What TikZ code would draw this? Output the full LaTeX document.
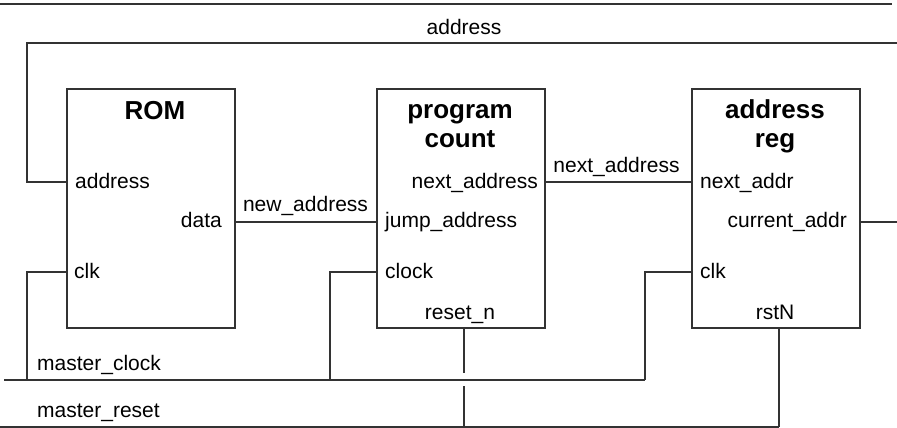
\documentclass[tikz,border=0pt]{standalone}
\usepackage{fontspec}
\setmainfont{Liberation Sans}
\begin{document}
\begin{tikzpicture}[x=1pt,y=-1pt,
  wire/.style={draw=black!80,line width=1.1pt},
  lbl/.style={inner sep=0pt,font=\fontsize{21}{25}\selectfont},
  ttl/.style={inner sep=0pt,font=\fontsize{26}{30}\selectfont\bfseries},
  blk/.style={draw=black!80,line width=1.1pt,minimum width=168pt,minimum height=239pt,anchor=north west,inner sep=0pt,outer sep=0pt}]
\useasboundingbox (0,0) rectangle (897,428);

% blocks
\node[blk] (rom) at (67,89) {};
\node[blk] (pc) at (377,89) {};
\node[blk] (ar) at (692,89) {};

% titles
\node[ttl,anchor=base] (romT) at (155,119) {ROM};
\node[ttl,anchor=base] (pcT1) at (460,118) {program};
\node[ttl,anchor=base] (pcT2) at (460,147) {count};
\node[ttl,anchor=base] (arT1) at (775,118) {address};
\node[ttl,anchor=base] (arT2) at (775,147) {reg};

% port labels
\node[lbl,anchor=base west] (romAddrL) at (75,188) {address};
\node[lbl,anchor=base east] (romDataL) at (222,227) {data};
\node[lbl,anchor=base west] (romClkL) at (74,278) {clk};
\node[lbl,anchor=base east] (pcNextL) at (538,188) {next\_address};
\node[lbl,anchor=base west] (pcJumpL) at (385,227) {jump\_address};
\node[lbl,anchor=base west] (pcClkL) at (385,278) {clock};
\node[lbl,anchor=base] (pcRstL) at (460,319) {reset\_n};
\node[lbl,anchor=base west] (arNextL) at (700,188) {next\_addr};
\node[lbl,anchor=base east] (arCurL) at (847,227) {current\_addr};
\node[lbl,anchor=base west] (arClkL) at (700,278) {clk};
\node[lbl,anchor=base] (arRstL) at (775,319) {rstN};

% port coordinates
\coordinate (romAddr) at (67,182);
\coordinate (romData) at (235,222);
\coordinate (romClk) at (67,272);
\coordinate (pcNext) at (545,182);
\coordinate (pcJump) at (377,222);
\coordinate (pcClk) at (377,272);
\coordinate (pcRst) at (464,328);
\coordinate (arNext) at (692,182);
\coordinate (arCur) at (860,222);
\coordinate (arClk) at (692,272);
\coordinate (arRst) at (779,328);

% net coordinates
\coordinate (topL) at (0,4);
\coordinate (topR) at (892,4);
\coordinate (addrL) at (27,43);
\coordinate (addrR) at (897,43);
\coordinate (curR) at (897,222);
\coordinate (mclkL) at (4,380);
\coordinate (mclkR) at (645,380);
\coordinate (mrstL) at (0,427);
\coordinate (mrstR) at (779,427);
\coordinate (romClkJ) at (27,380);
\coordinate (pcClkJ) at (330,380);
\coordinate (gapTop) at (464,373);
\coordinate (gapBot) at (464,386);
\coordinate (pcRstJ) at (464,427);

% net labels
\node[lbl,anchor=base] (addrNet) at (464,35) {address};
\node[lbl,anchor=base] (newAddrNet) at (305.5,211) {new\_address};
\node[lbl,anchor=base] (nextAddrNet) at (616.5,172) {next\_address};
\node[lbl,anchor=base west] (mclkNet) at (37,370) {master\_clock};
\node[lbl,anchor=base west] (mrstNet) at (37,417) {master\_reset};

% wires
\draw[wire] (topL) -- (topR);
\draw[wire] (romAddr) -| (addrL) -- (addrR);
\draw[wire] (romData) -- (pcJump);
\draw[wire] (pcNext) -- (arNext);
\draw[wire] (arCur) -- (curR);
\draw[wire] (mclkL) -- (mclkR);
\draw[wire] (romClk) -| (romClkJ);
\draw[wire] (pcClk) -| (pcClkJ);
\draw[wire] (arClk) -| (mclkR);
\draw[wire] (mrstL) -- (mrstR);
\draw[wire] (arRst) -- (mrstR);
\draw[wire] (pcRst) -- (gapTop);
\draw[wire] (gapBot) -- (pcRstJ);
\end{tikzpicture}
\end{document}
